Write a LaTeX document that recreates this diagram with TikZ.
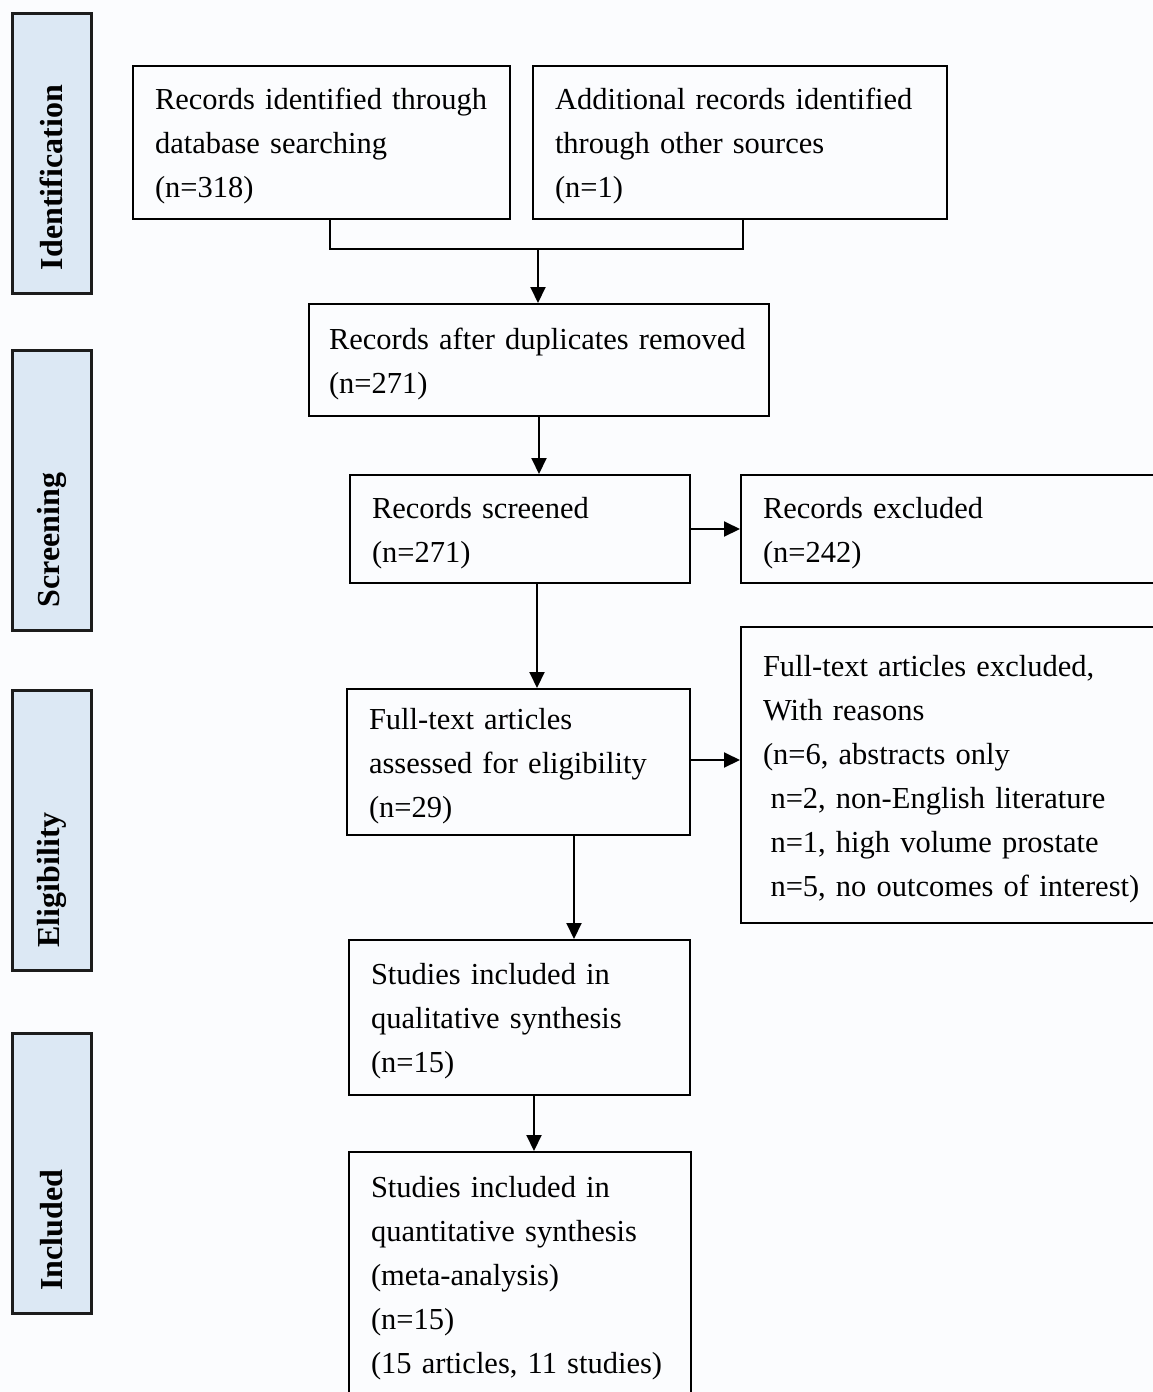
\documentclass[tikz,border=0pt]{standalone}
\usepackage{fontspec}
\setmainfont{Liberation Serif}
\usepackage{xcolor}
\usetikzlibrary{positioning}
\usetikzlibrary{arrows.meta}

\definecolor{phasefill}{HTML}{DCE8F4}
\definecolor{pagebg}{HTML}{FBFCFE}
\definecolor{phaseline}{HTML}{1C1C1C}
\hyphenpenalty=10000

\tikzset{
    flowbox/.style={draw, rectangle, line width=2pt, anchor=north west, align=left,
        inner xsep=22pt, inner ysep=0pt,
        execute at begin node={\rule{0pt}{29pt}},
        font=\fontsize{30.5}{44}\selectfont},
    phasebox/.style={draw=phaseline, rectangle, fill=phasefill, line width=3pt, rotate=90,
        minimum width=280pt, minimum height=79pt, text width=234pt, align=left,
        inner xsep=23pt, font=\bfseries\fontsize{32}{38}\selectfont},
    flowarrow/.style={-{Triangle[length=16pt, width=15pt]}, line width=2pt},
}

\begin{document}
\begin{tikzpicture}[x=1pt, y=-1pt]
    \useasboundingbox (0,0) rectangle (1153,1392);
    \fill[pagebg] (0,0) rectangle (1153,1392);

    % phases
    \node (ident) [phasebox] at (51.5,153) {Identification};
    \node (screen) [phasebox] at (51.5,490.5) {Screening};
    \node (elig) [phasebox] at (51.5,830.5) {Eligibility};
    \node (incl) [phasebox] at (51.5,1173.5) {Included};

    % boxes
    \node (db) [flowbox, text width=333pt, minimum height=153pt] at (132,65)
        {Records identified through\\database searching\\(n=318)};
    \node (other) [flowbox, text width=370pt, minimum height=153pt] at (532,65)
        {Additional records identified\\through other sources\\(n=1)};
    \node (dedup) [flowbox, text width=420pt, inner xsep=20pt, minimum height=112pt] at (308,303)
        {Records after duplicates removed\\(n=271)};
    \node (screened) [flowbox, text width=296pt, minimum height=108pt] at (349,474)
        {Records screened\\(n=271)};
    \node (excl) [flowbox, text width=391pt, minimum height=108pt] at (740,474)
        {Records excluded\\(n=242)};
    \node (full) [flowbox, text width=299pt, minimum height=146pt] at (346,688)
        {Full-text articles\\assessed for eligibility\\(n=29)};
    \node (fullexcl) [flowbox, text width=391pt, minimum height=296pt,
        execute at begin node={}] at (740,626)
        {Full-text articles excluded,\\With reasons\\(n=6, abstracts only\\
         \hspace*{7.5pt}n=2, non-English literature\\
         \hspace*{7.5pt}n=1, high volume prostate\\
         \hspace*{7.5pt}n=5, no outcomes of interest)};
    \node (qual) [flowbox, text width=297pt, minimum height=155pt] at (348,939)
        {Studies included in\\qualitative synthesis\\(n=15)};
    \node (quant) [flowbox, text width=298pt, minimum height=244pt] at (348,1151)
        {Studies included in\\quantitative synthesis\\(meta-analysis)\\(n=15)\\(15 articles, 11 studies)};

    % connectors
    \coordinate (join) at (538,249);
    \draw[line width=2pt] ([xshift=8.5pt]db.south) |- (join);
    \draw[line width=2pt] ([xshift=3pt]other.south) |- (join);
    \draw[flowarrow] (join) -- (join |- dedup.north);
    \draw[flowarrow] (dedup.south) -- (dedup.south |- screened.north);
    \draw[flowarrow] (screened.east) -- (screened.east -| excl.west);
    \draw[flowarrow] ([yshift=2pt]full.east) -- ([yshift=2pt]full.east -| fullexcl.west);
    \draw[flowarrow] ([xshift=17pt]screened.south) -- ([xshift=17pt]screened.south |- full.north);
    \draw[flowarrow] ([xshift=55.5pt]full.south) -- ([xshift=55.5pt]full.south |- qual.north);
    \draw[flowarrow] ([xshift=14.5pt]qual.south) -- ([xshift=14.5pt]qual.south |- quant.north);
\end{tikzpicture}
\end{document}
